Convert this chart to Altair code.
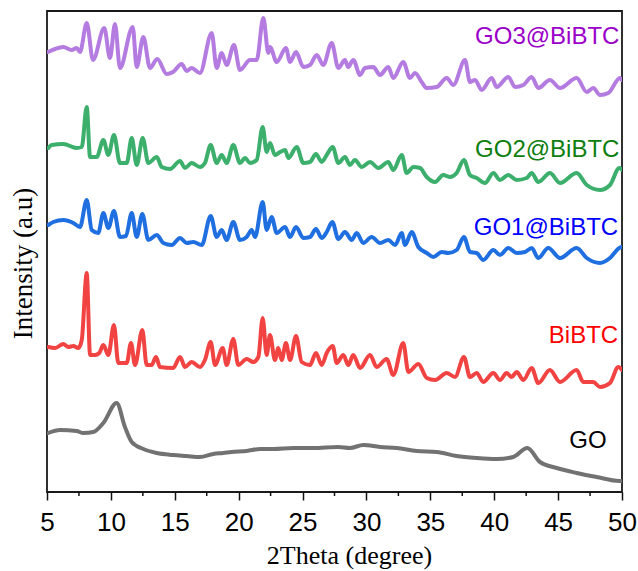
import altair as alt
import pandas as pd

# ---- data (2Theta in degrees, intensity in arbitrary offset units) ----
go3_t = [5.08, 5.63, 6.28, 6.93, 7.32, 7.58, 8.11, 8.60, 9.48, 9.93, 10.32, 10.71, 11.71, 12.02, 12.54, 13.06,
         13.63, 14.37, 14.86, 15.54, 15.93, 16.32, 16.97, 17.89, 18.28, 18.67, 19.06, 19.63, 20.10, 20.89, 21.41,
         21.93, 22.32, 22.45, 22.98, 23.70, 24.02, 24.49, 25.06, 25.58, 26.11, 26.62, 27.28, 27.80, 28.32, 28.56,
         28.97, 29.50, 29.89, 30.54, 31.06, 31.71, 32.10, 32.88, 33.41, 33.80, 34.32, 34.72, 35.50, 36.28, 36.80,
         37.71, 38.10, 38.50, 39.02, 39.80, 40.19, 41.10, 41.63, 42.28, 42.93, 43.45, 44.36, 45.15, 46.45, 47.24,
         47.75, 48.28, 48.93, 49.84, 50.0]
go3_i = [440, 443, 445, 442, 444, 440, 469, 432, 464, 434, 468, 424, 465, 425, 455, 424,
         433, 418, 420, 428, 421, 424, 419, 459, 424, 439, 427, 447, 422, 432, 432,
         474, 439, 445, 430, 444, 430, 440, 425, 427, 437, 427, 449, 424, 432, 425,
         432, 417, 424, 425, 417, 425, 414, 430, 414, 419, 410, 404, 405, 414, 407,
         432, 410, 412, 402, 414, 405, 415, 405, 407, 415, 404, 412, 404, 414, 400,
         404, 397, 399, 414, 412]

go2_t = [5.10, 5.37, 6.28, 7.32, 7.72, 8.11, 8.37, 8.89, 9.41, 9.80, 10.24, 10.71, 11.24, 11.63, 12.02, 12.49,
         12.93, 13.59, 13.98, 14.63, 15.41, 15.80, 16.32, 16.97, 17.36, 17.81, 18.28, 18.67, 19.06, 19.58, 20.10,
         20.50, 20.89, 21.41, 21.88, 22.19, 22.45, 22.84, 23.24, 23.63, 23.89, 24.54, 25.06, 25.58, 26.05, 26.50,
         26.89, 27.36, 27.80, 28.32, 28.71, 29.10, 29.63, 30.28, 30.93, 31.71, 32.10, 32.76, 33.15, 33.67, 34.19,
         34.72, 35.37, 36.01, 36.54, 37.06, 37.63, 38.10, 38.63, 39.28, 39.93, 40.45, 41.10, 41.76, 42.54, 42.93,
         43.45, 44.36, 45.15, 46.45, 47.24, 48.28, 49.06, 49.79, 50.0]
go2_i = [344, 347, 348, 344, 345, 385, 335, 335, 352, 337, 357, 329, 329, 354, 327, 354,
         329, 335, 325, 323, 331, 324, 329, 325, 329, 347, 329, 337, 329, 347, 329,
         334, 329, 332, 365, 340, 349, 337, 340, 342, 334, 345, 329, 330, 338, 330,
         337, 345, 329, 335, 327, 332, 325, 330, 324, 330, 322, 337, 319, 325, 324,
         315, 310, 317, 315, 319, 332, 317, 314, 309, 319, 312, 317, 312, 314, 319,
         310, 319, 309, 319, 307, 302, 307, 324, 322]

go1_t = [5.10, 5.49, 6.28, 7.06, 7.58, 8.11, 8.50, 9.01, 9.41, 9.80, 10.24, 10.71, 11.18, 11.63, 12.02, 12.46,
         12.93, 13.59, 14.10, 14.76, 15.41, 15.93, 16.45, 17.11, 17.81, 18.28, 18.67, 19.06, 19.58, 20.10, 20.63,
         21.02, 21.28, 21.88, 22.19, 22.58, 22.98, 23.63, 24.02, 24.49, 25.06, 25.58, 26.05, 26.50, 26.89, 27.33,
         27.80, 28.32, 28.85, 29.24, 29.75, 30.41, 31.06, 31.71, 32.24, 32.76, 33.02, 33.54, 34.06, 34.72, 35.23,
         35.89, 36.41, 37.06, 37.63, 38.10, 38.63, 39.14, 39.93, 40.45, 41.10, 41.76, 42.41, 42.93, 43.45, 44.23,
         45.15, 46.45, 47.24, 48.28, 49.06, 49.79, 50.0]
go1_i = [267, 270, 272, 269, 265, 292, 262, 259, 279, 264, 281, 255, 256, 279, 255, 278,
         252, 257, 249, 247, 254, 249, 250, 247, 276, 255, 262, 252, 270, 252, 255,
         262, 255, 290, 262, 275, 259, 265, 255, 265, 254, 255, 263, 254, 260, 270,
         253, 260, 252, 259, 249, 255, 249, 252, 247, 259, 247, 260, 245, 239, 235,
         240, 239, 242, 255, 240, 239, 232, 242, 237, 244, 239, 240, 244, 234, 244,
         234, 244, 234, 229, 234, 244, 245]

bibtc_t = [5.10, 5.63, 6.28, 6.67, 7.06, 7.45, 7.72, 8.11, 8.37, 8.76, 9.09, 9.41, 9.80, 10.24, 10.58, 11.24,
           11.57, 11.89, 12.46, 12.80, 13.19, 13.53, 13.84, 14.88, 15.41, 15.80, 16.32, 16.97, 17.36, 17.81, 18.15,
           18.75, 19.06, 19.58, 19.97, 20.63, 21.14, 21.54, 21.88, 22.19, 22.45, 22.84, 23.10, 23.37, 23.70, 24.02,
           24.49, 24.93, 25.58, 26.05, 26.50, 26.89, 27.36, 27.67, 28.19, 28.58, 28.97, 29.50, 30.28, 30.80, 31.58,
           32.10, 32.88, 33.28, 34.06, 34.72, 35.37, 36.28, 36.93, 37.63, 38.10, 38.63, 39.14, 39.93, 40.45, 40.97,
           41.36, 41.76, 42.28, 42.93, 43.45, 44.36, 45.15, 46.45, 46.97, 47.75, 48.28, 49.06, 49.71, 50.0]
bibtc_i = [145, 144, 148, 145, 146, 144, 152, 219, 137, 137, 139, 147, 137, 167, 129, 129,
           149, 127, 162, 127, 127, 135, 125, 124, 135, 125, 130, 125, 132, 150, 127,
           144, 127, 153, 127, 133, 130, 135, 174, 137, 157, 132, 144, 132, 149, 132,
           156, 130, 127, 139, 127, 139, 146, 129, 137, 127, 137, 124, 137, 125, 133,
           117, 149, 120, 128, 114, 112, 119, 115, 135, 115, 119, 110, 119, 112, 119,
           115, 120, 112, 124, 109, 122, 110, 122, 110, 110, 105, 109, 125, 122]

go_t = [5.10, 6.02, 7.32, 7.84, 8.62, 9.41, 10.45, 11.10, 11.63, 12.54, 13.59, 14.88, 15.93, 16.97, 18.01, 18.80,
        19.45, 20.63, 21.67, 22.71, 24.28, 25.84, 27.80, 28.71, 29.75, 31.06, 32.37, 33.93, 35.50, 37.06, 38.63,
        40.19, 41.49, 42.59, 43.58, 44.89, 46.45, 48.01, 49.79, 50.0]
go_i = [59, 62, 61, 59, 60, 69, 89, 65, 50, 43, 39, 37, 36, 35, 38, 39,
        40, 41, 43, 43, 44, 44, 45, 44, 47, 45, 44, 41, 40, 36, 34,
        33, 35, 44, 30, 24, 19, 15, 11, 11]

series_names = ["GO3@BiBTC", "GO2@BiBTC", "GO1@BiBTC", "BiBTC", "GO"]
line_colors = ["#B47BE0", "#3BAF6B", "#1F6FE0", "#F24343", "#727272"]
label_colors = ["#9B00C8", "#0E7E0E", "#0000FF", "#FF0000", "#000000"]
label_x = [49.8, 49.8, 49.7, 49.7, 48.8]
label_y = [455, 342, 264, 156, 51]

x_ticks = [5, 10, 15, 20, 25, 30, 35, 40, 45, 50]
minor_ticks = [7.5, 12.5, 17.5, 22.5, 27.5, 32.5, 37.5, 42.5, 47.5]

# ---- build tables ----
rows = []
for name, ts, vs in zip(series_names,
                        [go3_t, go2_t, go1_t, bibtc_t, go_t],
                        [go3_i, go2_i, go1_i, bibtc_i, go_i]):
    for t, v in zip(ts, vs):
        rows.append({"series": name, "t": t, "I": v})
df = pd.DataFrame(rows)
labels_df = pd.DataFrame({"series": series_names, "x": label_x, "y": label_y})
minor_df = pd.DataFrame({"m": minor_ticks})

xscale = alt.Scale(domain=[5, 50], nice=False, zero=False)
yscale = alt.Scale(domain=[0, 481], nice=False, zero=False)

lines = alt.Chart(df).mark_line(strokeWidth=4, strokeJoin="round", strokeCap="round", clip=True,
                                interpolate="monotone").encode(
    x=alt.X("t:Q", scale=xscale,
            axis=alt.Axis(values=x_ticks, title="2Theta (degree)", domain=False,
                          tickSize=8, tickWidth=1.5, tickColor="#111111",
                          labelFont="Liberation Sans", labelFontSize=26, labelColor="#000000",
                          labelPadding=9, labelFlush=False, grid=False,
                          titleFont="Liberation Serif", titleFontSize=26, titleFontWeight="normal",
                          titleColor="#000000", titlePadding=7, titleX=302)),
    y=alt.Y("I:Q", scale=yscale,
            axis=alt.Axis(title="Intensity (a.u)", domain=False, ticks=False, labels=False, grid=False,
                          titleFont="Liberation Serif", titleFontSize=27, titleFontWeight="normal",
                          titleColor="#000000", titleX=-24, titleY=252, titleBaseline="middle")),
    color=alt.Color("series:N", scale=alt.Scale(domain=series_names, range=line_colors), legend=None),
    detail="series:N",
)

minor = alt.Chart(minor_df).mark_rule(color="#111111", strokeWidth=1.5).encode(
    x=alt.X("m:Q", scale=xscale),
    y=alt.value(481),
    y2=alt.value(485),
)

labels = alt.Chart(labels_df).mark_text(align="right", baseline="middle", font="Liberation Sans",
                                         fontSize=24).encode(
    x=alt.X("x:Q", scale=xscale),
    y=alt.Y("y:Q", scale=yscale),
    text="series:N",
    color=alt.Color("series:N", scale=alt.Scale(domain=series_names, range=label_colors), legend=None),
)

chart = alt.layer(lines, minor, labels).resolve_scale(color="independent").properties(
    width=575, height=481,
    padding={"left": 47, "top": 11, "right": 16, "bottom": 79},
    autosize=alt.AutoSizeParams(type="none"),
).configure_view(stroke="#1a1a1a", strokeWidth=1.8)

chart.save("out.html", embed_options={"renderer": "svg", "actions": False})
